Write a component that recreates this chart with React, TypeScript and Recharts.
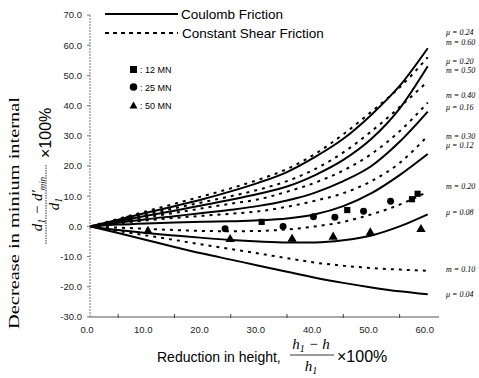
import { ComposedChart, Line, Scatter, XAxis, YAxis, ZAxis } from 'recharts';

// reduction in height (%)
const reduction = [0, 5, 10, 15, 20, 25, 30, 35, 40, 45, 50, 55, 60];

// Coulomb friction curves
const mu24 = [0, 2.2, 4.5, 6.7, 9, 11.6, 14.5, 18, 23, 29, 37, 46.5, 59];
const mu20 = [0, 1.7, 3.5, 5.2, 7, 8.8, 10.8, 13.2, 17, 22, 29, 39, 53];
const mu16 = [0, 1.2, 2.4, 3.4, 4.4, 5.5, 6.8, 8.6, 11.2, 15, 20, 28, 38];
const mu12 = [0, 0.6, 1, 1.3, 1.5, 1.7, 2, 2.6, 4, 6.7, 11, 17, 24];
const mu08 = [0, -1.2, -2.2, -3, -3.8, -4.5, -5, -5.3, -5.3, -4.6, -3, 0, 4];
const mu04 = [0, -2.2, -4.5, -6.8, -9, -11, -13, -15, -17, -18.7, -20.2, -21.5, -22.5];

// constant shear friction curves
const m60 = [0, 2.5, 5, 7.5, 10, 12.6, 15.5, 19, 24, 30.5, 38, 46, 56];
const m50 = [0, 2, 4, 6, 8, 10, 12.2, 15, 19, 24.5, 31.5, 39.5, 48];
const m40 = [0, 1.5, 3, 4.5, 6, 7.5, 9, 11.5, 14.5, 18.5, 24, 31.5, 41];
const m30 = [0, 1, 2, 2.8, 3.5, 4.2, 5, 6.5, 8.5, 11, 15, 21, 30];
const m20 = [0, -0.4, -0.8, -1.2, -1.5, -1.6, -1.5, -1, 0, 1.5, 4, 7.2, 11.5];
const m10 = [0, -1.5, -3, -4.5, -6, -7.5, -9, -10.5, -12, -13, -13.8, -14.3, -14.7];

// experiments [reduction, decrease]
const press12 = [[7, 2.5], [30.5, 1.5], [45.7, 5.4], [57.2, 9], [58.2, 10.8]];
const press25 = [[24, -0.8], [34.3, 0], [39.7, 3.2], [43.5, 3], [48.6, 5], [53.4, 8.3]];
const press50 = [[10.3, -1.6], [24.9, -4.3], [35.9, -4.2], [43.2, -3.5], [49.8, -2.1], [58.8, -1]];

const xTicks = [0, 5, 10, 15, 20, 25, 30, 35, 40, 45, 50, 55, 60];
const yTicks = [-30, -20, -10, 0, 10, 20, 30, 40, 50, 60, 70];

const curveLabels = [
  { text: 'μ = 0.24', y: 33 },
  { text: 'm = 0.60', y: 43 },
  { text: 'μ = 0.20', y: 62 },
  { text: 'm = 0.50', y: 71 },
  { text: 'm = 0.40', y: 96 },
  { text: 'μ = 0.16', y: 108 },
  { text: 'm = 0.30', y: 137 },
  { text: 'μ = 0.12', y: 146 },
  { text: 'm = 0.20', y: 187 },
  { text: 'μ = 0.08', y: 213 },
  { text: 'm = 0.10', y: 270 },
  { text: 'μ = 0.04', y: 295 },
];

const coulomb = [mu24, mu20, mu16, mu12, mu08, mu04];
const shear = [m60, m50, m40, m30, m20, m10];

const toPoints = (ys: number[]) => reduction.map((x, i) => ({ x, y: ys[i] }));
const toMarks = (pts: number[][]) => pts.map(([x, y]) => ({ x, y }));

const XTick = (props: any) => {
  const { x, y, payload } = props;
  if (payload.value % 10 === 0) {
    return (
      <text x={x - 3} y={y + 16} textAnchor="middle" fontSize={9.5} fontFamily="Liberation Sans" fill="#222">
        {payload.value.toFixed(1)}
      </text>
    );
  }
  return <line x1={x} x2={x} y1={y - 3} y2={y + 1} stroke="#444" />;
};

const sans = 'Liberation Sans';
const serif = 'Liberation Serif';

export default function App() {
  return (
    <div style={{ position: 'absolute', left: 0, top: 0, width: 479, height: 378, background: '#fff' }}>
      <ComposedChart width={479} height={378} margin={{ top: 15, right: 40, bottom: 31, left: 40 }}>
        <XAxis
          type="number"
          dataKey="x"
          domain={[0, 62]}
          ticks={xTicks}
          interval={0}
          tickLine={false}
          tickSize={0}
          tickMargin={0}
          tick={<XTick />}
          height={30}
          stroke="#555"
        />
        <YAxis
          type="number"
          domain={[-30, 70]}
          ticks={yTicks}
          interval={0}
          width={50}
          tickSize={3}
          tickMargin={5}
          tickFormatter={(v: number) => v.toFixed(1)}
          tick={{ fontSize: 9.5, fontFamily: sans, fill: '#222' }}
          axisLine={{ stroke: '#777', strokeDasharray: '2 1' }}
          tickLine={{ stroke: '#777' }}
        />
        <ZAxis type="number" range={[38, 38]} />
        {coulomb.map((ys, i) => (
          <Line
            key={'c' + i}
            data={toPoints(ys)}
            dataKey="y"
            type="monotone"
            stroke="#000"
            strokeWidth={2}
            dot={false}
            isAnimationActive={false}
          />
        ))}
        {shear.map((ys, i) => (
          <Line
            key={'s' + i}
            data={toPoints(ys)}
            dataKey="y"
            type="monotone"
            stroke="#000"
            strokeWidth={2}
            strokeDasharray="3 5"
            dot={false}
            isAnimationActive={false}
          />
        ))}
        <Scatter data={toMarks(press12)} dataKey="y" shape="square" fill="#000" isAnimationActive={false} />
        <Scatter data={toMarks(press25)} dataKey="y" shape="circle" fill="#000" isAnimationActive={false} />
        <Scatter data={toMarks(press50)} dataKey="y" shape="triangle" fill="#000" isAnimationActive={false} />
      </ComposedChart>

      <svg width={479} height={378} style={{ position: 'absolute', left: 0, top: 0, pointerEvents: 'none' }}>
        {/* legend */}
        <line x1={105} x2={178} y1={14} y2={14} stroke="#000" strokeWidth={2} />
        <text x={181} y={18.5} fontFamily={sans} fontSize={13.5}>Coulomb Friction</text>
        <line x1={105} x2={178} y1={33} y2={33} stroke="#000" strokeWidth={2} strokeDasharray="4 4" />
        <text x={182} y={37.5} fontFamily={sans} fontSize={13.5}>Constant Shear Friction</text>
        <rect x={130} y={66} width={7} height={7} fill="#000" />
        <text x={140} y={73} fontFamily={sans} fontSize={9}>: 12 MN</text>
        <circle cx={133.5} cy={87} r={3.8} fill="#000" />
        <text x={140} y={90.5} fontFamily={sans} fontSize={9}>: 25 MN</text>
        <polygon points="133.5,101.5 129.5,108.5 137.5,108.5" fill="#000" />
        <text x={140} y={109} fontFamily={sans} fontSize={9}>: 50 MN</text>

        {/* curve labels */}
        {curveLabels.map((l) => (
          <text key={l.text} x={446} y={l.y} dominantBaseline="middle" fontFamily={serif} fontStyle="italic" fontSize={8}>
            {l.text}
          </text>
        ))}

        {/* y axis title */}
        <text
          transform="translate(19,213) rotate(-90)"
          textAnchor="middle"
          fontFamily={serif}
          fontSize={14}
          textLength={232}
          lengthAdjust="spacingAndGlyphs"
        >
          Decrease in minium internal
        </text>
        <g transform="translate(46,204) rotate(-90)">
          <text x={0} y={-4} textAnchor="middle" fontFamily={serif} fontStyle="italic" fontSize={15}>
            d<tspan fontSize={10} dy={3}>1</tspan>
            <tspan dy={-3}> − d′</tspan>
            <tspan fontSize={9} dy={3}>min</tspan>
          </text>
          <line x1={-40} x2={40} y1={0} y2={0} stroke="#000" strokeWidth={0.8} strokeDasharray="1.5 1" />
          <text x={0} y={13} textAnchor="middle" fontFamily={serif} fontStyle="italic" fontSize={15}>
            d<tspan fontSize={10} dy={3}>1</tspan>
          </text>
          <text x={46} y={5} fontFamily={sans} fontSize={16}>×100%</text>
        </g>

        {/* x axis title */}
        <text x={157} y={362} fontFamily={sans} fontSize={14}>Reduction in height,</text>
        <text x={311} y={349} textAnchor="middle" fontFamily={serif} fontStyle="italic" fontSize={15}>
          h<tspan fontSize={10} dy={3}>1</tspan>
          <tspan dy={-3}> − h</tspan>
        </text>
        <line x1={290} x2={334} y1={355} y2={355} stroke="#000" strokeWidth={0.8} />
        <text x={311} y={371} textAnchor="middle" fontFamily={serif} fontStyle="italic" fontSize={15}>
          h<tspan fontSize={10} dy={3}>1</tspan>
        </text>
        <text x={337} y={362} fontFamily={sans} fontSize={16}>×100%</text>
      </svg>
    </div>
  );
}
